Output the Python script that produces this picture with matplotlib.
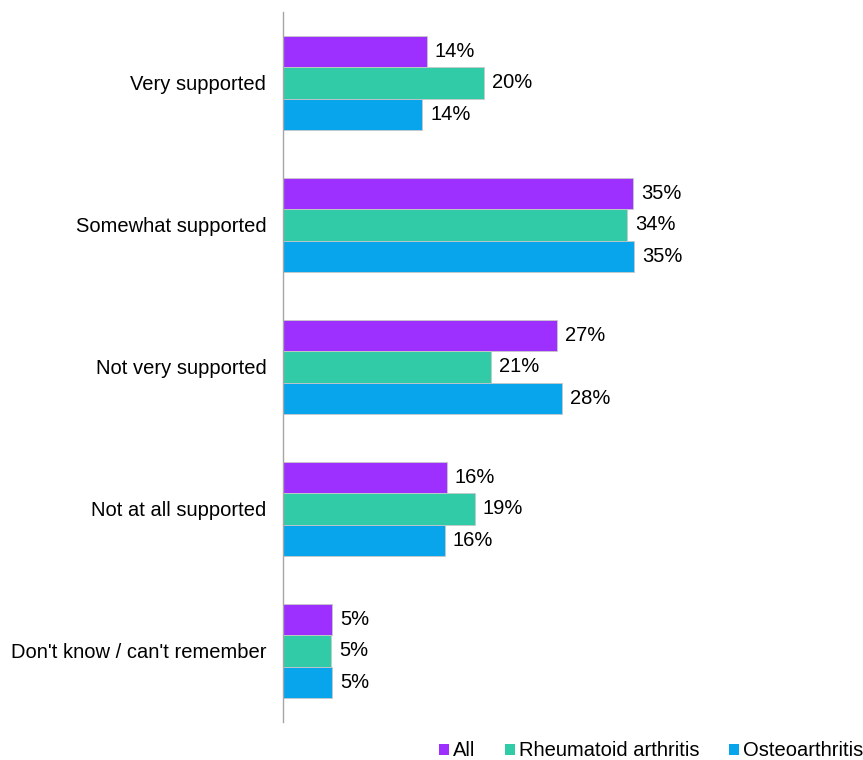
import numpy as np
import matplotlib.pyplot as plt
from matplotlib.patches import Patch

plt.rcParams['font.family'] = ['Liberation Sans', 'DejaVu Sans']

categories = ['Very supported', 'Somewhat supported', 'Not very supported',
              'Not at all supported', "Don't know / can't remember"]
series = ['All', 'Rheumatoid arthritis', 'Osteoarthritis']
all_pct = [14.4, 35.0, 27.4, 16.4, 4.9]
ra_pct = [20.1, 34.4, 20.8, 19.2, 4.8]
oa_pct = [13.9, 35.1, 27.9, 16.2, 4.9]
colors = ['#9D2FFF', '#31CBA8', '#08A4EC']

fig = plt.figure(figsize=(8.63, 7.6), dpi=100)
ax = fig.add_axes([283 / 863, 38 / 760, 570 / 863, 710 / 760])

y = np.arange(len(categories))
h = 0.221
for i, (vals, c) in enumerate(zip([all_pct, ra_pct, oa_pct], colors)):
    pos = y + (i - 1) * h
    ax.barh(pos, vals, height=h, color=c, edgecolor='#c8c8c8', linewidth=0.6)
    for p, v in zip(pos, vals):
        ax.text(v + 0.8, p, f'{v:.0f}%', va='center', ha='left', fontsize=14.5)

ax.set_xlim(0, 57)
ax.set_ylim(len(categories) - 0.5, -0.5)
ax.set_yticks(y)
ax.set_yticklabels(categories, fontsize=14.5)
ax.tick_params(axis='y', length=0, pad=12)
ax.set_xticks([])
for s in ['top', 'right', 'bottom']:
    ax.spines[s].set_visible(False)
ax.spines['left'].set_color('#a6a6a6')
ax.spines['left'].set_linewidth(1)

handles = [Patch(facecolor=c, label=s) for c, s in zip(colors, series)]
fig.legend(handles=handles, loc='center right', bbox_to_anchor=(1.0, 9 / 760),
           ncol=3, frameon=False, fontsize=14.5, handlelength=0.5,
           handleheight=0.5, handletextpad=0.2, columnspacing=1.45,
           borderpad=0, borderaxespad=0)

fig.savefig('out.png', dpi=100)
